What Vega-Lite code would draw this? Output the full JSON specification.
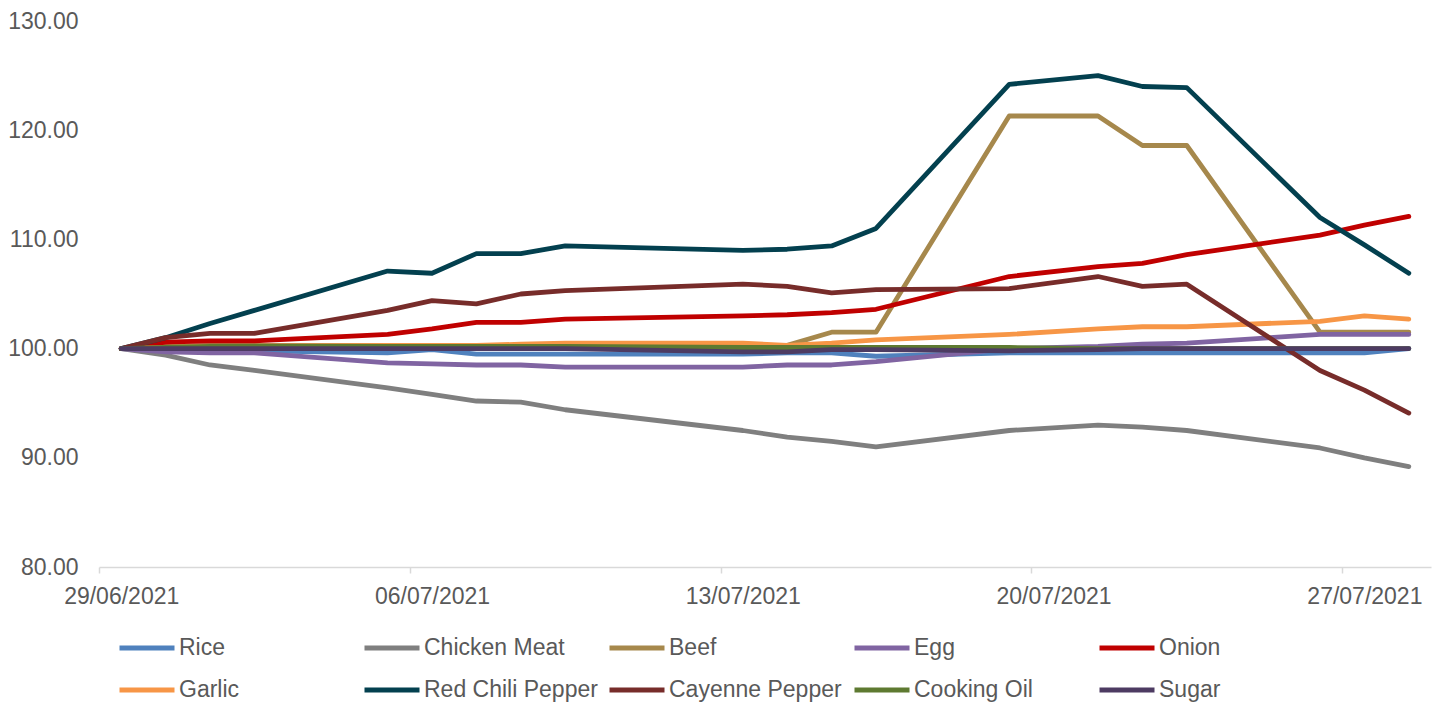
{
  "$schema": "https://vega.github.io/schema/vega-lite/v6.json",
  "width": 1332,
  "height": 546,
  "autosize": {"type": "none"},
  "padding": {"left": 99, "top": 21, "right": 11, "bottom": 138},
  "background": "white",
  "config": {
    "view": {"stroke": null},
    "font": "Liberation Sans"
  },
  "data": {
    "values": [
      {"date":"2021-06-29","commodity":"Rice","value":100.0},
      {"date":"2021-06-30","commodity":"Rice","value":99.9},
      {"date":"2021-07-01","commodity":"Rice","value":99.8},
      {"date":"2021-07-02","commodity":"Rice","value":99.8},
      {"date":"2021-07-05","commodity":"Rice","value":99.6},
      {"date":"2021-07-06","commodity":"Rice","value":99.9},
      {"date":"2021-07-07","commodity":"Rice","value":99.5},
      {"date":"2021-07-08","commodity":"Rice","value":99.5},
      {"date":"2021-07-09","commodity":"Rice","value":99.5},
      {"date":"2021-07-13","commodity":"Rice","value":99.5},
      {"date":"2021-07-14","commodity":"Rice","value":99.6},
      {"date":"2021-07-15","commodity":"Rice","value":99.6},
      {"date":"2021-07-16","commodity":"Rice","value":99.3},
      {"date":"2021-07-19","commodity":"Rice","value":99.6},
      {"date":"2021-07-21","commodity":"Rice","value":99.6},
      {"date":"2021-07-22","commodity":"Rice","value":99.6},
      {"date":"2021-07-23","commodity":"Rice","value":99.6},
      {"date":"2021-07-26","commodity":"Rice","value":99.6},
      {"date":"2021-07-27","commodity":"Rice","value":99.6},
      {"date":"2021-07-28","commodity":"Rice","value":100.0},

      {"date":"2021-06-29","commodity":"Chicken Meat","value":100.0},
      {"date":"2021-06-30","commodity":"Chicken Meat","value":99.4},
      {"date":"2021-07-01","commodity":"Chicken Meat","value":98.5},
      {"date":"2021-07-02","commodity":"Chicken Meat","value":98.0},
      {"date":"2021-07-05","commodity":"Chicken Meat","value":96.4},
      {"date":"2021-07-06","commodity":"Chicken Meat","value":95.8},
      {"date":"2021-07-07","commodity":"Chicken Meat","value":95.2},
      {"date":"2021-07-08","commodity":"Chicken Meat","value":95.1},
      {"date":"2021-07-09","commodity":"Chicken Meat","value":94.4},
      {"date":"2021-07-13","commodity":"Chicken Meat","value":92.5},
      {"date":"2021-07-14","commodity":"Chicken Meat","value":91.9},
      {"date":"2021-07-15","commodity":"Chicken Meat","value":91.5},
      {"date":"2021-07-16","commodity":"Chicken Meat","value":91.0},
      {"date":"2021-07-19","commodity":"Chicken Meat","value":92.5},
      {"date":"2021-07-21","commodity":"Chicken Meat","value":93.0},
      {"date":"2021-07-22","commodity":"Chicken Meat","value":92.8},
      {"date":"2021-07-23","commodity":"Chicken Meat","value":92.5},
      {"date":"2021-07-26","commodity":"Chicken Meat","value":90.9},
      {"date":"2021-07-27","commodity":"Chicken Meat","value":90.0},
      {"date":"2021-07-28","commodity":"Chicken Meat","value":89.2},

      {"date":"2021-06-29","commodity":"Beef","value":100.0},
      {"date":"2021-06-30","commodity":"Beef","value":100.2},
      {"date":"2021-07-01","commodity":"Beef","value":100.3},
      {"date":"2021-07-02","commodity":"Beef","value":100.3},
      {"date":"2021-07-05","commodity":"Beef","value":100.3},
      {"date":"2021-07-06","commodity":"Beef","value":100.3},
      {"date":"2021-07-07","commodity":"Beef","value":100.3},
      {"date":"2021-07-08","commodity":"Beef","value":100.3},
      {"date":"2021-07-09","commodity":"Beef","value":100.3},
      {"date":"2021-07-13","commodity":"Beef","value":100.3},
      {"date":"2021-07-14","commodity":"Beef","value":100.3},
      {"date":"2021-07-15","commodity":"Beef","value":101.5},
      {"date":"2021-07-16","commodity":"Beef","value":101.5},
      {"date":"2021-07-19","commodity":"Beef","value":121.3},
      {"date":"2021-07-21","commodity":"Beef","value":121.3},
      {"date":"2021-07-22","commodity":"Beef","value":118.6},
      {"date":"2021-07-23","commodity":"Beef","value":118.6},
      {"date":"2021-07-26","commodity":"Beef","value":101.5},
      {"date":"2021-07-27","commodity":"Beef","value":101.5},
      {"date":"2021-07-28","commodity":"Beef","value":101.5},

      {"date":"2021-06-29","commodity":"Egg","value":100.0},
      {"date":"2021-06-30","commodity":"Egg","value":99.7},
      {"date":"2021-07-01","commodity":"Egg","value":99.6},
      {"date":"2021-07-02","commodity":"Egg","value":99.6},
      {"date":"2021-07-05","commodity":"Egg","value":98.7},
      {"date":"2021-07-06","commodity":"Egg","value":98.6},
      {"date":"2021-07-07","commodity":"Egg","value":98.5},
      {"date":"2021-07-08","commodity":"Egg","value":98.5},
      {"date":"2021-07-09","commodity":"Egg","value":98.3},
      {"date":"2021-07-13","commodity":"Egg","value":98.3},
      {"date":"2021-07-14","commodity":"Egg","value":98.5},
      {"date":"2021-07-15","commodity":"Egg","value":98.5},
      {"date":"2021-07-16","commodity":"Egg","value":98.8},
      {"date":"2021-07-19","commodity":"Egg","value":100.0},
      {"date":"2021-07-21","commodity":"Egg","value":100.2},
      {"date":"2021-07-22","commodity":"Egg","value":100.4},
      {"date":"2021-07-23","commodity":"Egg","value":100.5},
      {"date":"2021-07-26","commodity":"Egg","value":101.3},
      {"date":"2021-07-27","commodity":"Egg","value":101.3},
      {"date":"2021-07-28","commodity":"Egg","value":101.3},

      {"date":"2021-06-29","commodity":"Onion","value":100.0},
      {"date":"2021-06-30","commodity":"Onion","value":100.6},
      {"date":"2021-07-01","commodity":"Onion","value":100.7},
      {"date":"2021-07-02","commodity":"Onion","value":100.7},
      {"date":"2021-07-05","commodity":"Onion","value":101.3},
      {"date":"2021-07-06","commodity":"Onion","value":101.8},
      {"date":"2021-07-07","commodity":"Onion","value":102.4},
      {"date":"2021-07-08","commodity":"Onion","value":102.4},
      {"date":"2021-07-09","commodity":"Onion","value":102.7},
      {"date":"2021-07-13","commodity":"Onion","value":103.0},
      {"date":"2021-07-14","commodity":"Onion","value":103.1},
      {"date":"2021-07-15","commodity":"Onion","value":103.3},
      {"date":"2021-07-16","commodity":"Onion","value":103.6},
      {"date":"2021-07-19","commodity":"Onion","value":106.6},
      {"date":"2021-07-21","commodity":"Onion","value":107.5},
      {"date":"2021-07-22","commodity":"Onion","value":107.8},
      {"date":"2021-07-23","commodity":"Onion","value":108.6},
      {"date":"2021-07-26","commodity":"Onion","value":110.4},
      {"date":"2021-07-27","commodity":"Onion","value":111.3},
      {"date":"2021-07-28","commodity":"Onion","value":112.1},

      {"date":"2021-06-29","commodity":"Garlic","value":100.0},
      {"date":"2021-06-30","commodity":"Garlic","value":100.1},
      {"date":"2021-07-01","commodity":"Garlic","value":100.2},
      {"date":"2021-07-02","commodity":"Garlic","value":100.2},
      {"date":"2021-07-05","commodity":"Garlic","value":100.3},
      {"date":"2021-07-06","commodity":"Garlic","value":100.3},
      {"date":"2021-07-07","commodity":"Garlic","value":100.3},
      {"date":"2021-07-08","commodity":"Garlic","value":100.4},
      {"date":"2021-07-09","commodity":"Garlic","value":100.5},
      {"date":"2021-07-13","commodity":"Garlic","value":100.5},
      {"date":"2021-07-14","commodity":"Garlic","value":100.3},
      {"date":"2021-07-15","commodity":"Garlic","value":100.5},
      {"date":"2021-07-16","commodity":"Garlic","value":100.8},
      {"date":"2021-07-19","commodity":"Garlic","value":101.3},
      {"date":"2021-07-21","commodity":"Garlic","value":101.8},
      {"date":"2021-07-22","commodity":"Garlic","value":102.0},
      {"date":"2021-07-23","commodity":"Garlic","value":102.0},
      {"date":"2021-07-26","commodity":"Garlic","value":102.5},
      {"date":"2021-07-27","commodity":"Garlic","value":103.0},
      {"date":"2021-07-28","commodity":"Garlic","value":102.7},

      {"date":"2021-06-29","commodity":"Red Chili Pepper","value":100.0},
      {"date":"2021-06-30","commodity":"Red Chili Pepper","value":101.0},
      {"date":"2021-07-01","commodity":"Red Chili Pepper","value":102.3},
      {"date":"2021-07-02","commodity":"Red Chili Pepper","value":103.5},
      {"date":"2021-07-05","commodity":"Red Chili Pepper","value":107.1},
      {"date":"2021-07-06","commodity":"Red Chili Pepper","value":106.9},
      {"date":"2021-07-07","commodity":"Red Chili Pepper","value":108.7},
      {"date":"2021-07-08","commodity":"Red Chili Pepper","value":108.7},
      {"date":"2021-07-09","commodity":"Red Chili Pepper","value":109.4},
      {"date":"2021-07-13","commodity":"Red Chili Pepper","value":109.0},
      {"date":"2021-07-14","commodity":"Red Chili Pepper","value":109.1},
      {"date":"2021-07-15","commodity":"Red Chili Pepper","value":109.4},
      {"date":"2021-07-16","commodity":"Red Chili Pepper","value":111.0},
      {"date":"2021-07-19","commodity":"Red Chili Pepper","value":124.2},
      {"date":"2021-07-21","commodity":"Red Chili Pepper","value":125.0},
      {"date":"2021-07-22","commodity":"Red Chili Pepper","value":124.0},
      {"date":"2021-07-23","commodity":"Red Chili Pepper","value":123.9},
      {"date":"2021-07-26","commodity":"Red Chili Pepper","value":112.0},
      {"date":"2021-07-27","commodity":"Red Chili Pepper","value":109.5},
      {"date":"2021-07-28","commodity":"Red Chili Pepper","value":106.9},

      {"date":"2021-06-29","commodity":"Cayenne Pepper","value":100.0},
      {"date":"2021-06-30","commodity":"Cayenne Pepper","value":101.0},
      {"date":"2021-07-01","commodity":"Cayenne Pepper","value":101.4},
      {"date":"2021-07-02","commodity":"Cayenne Pepper","value":101.4},
      {"date":"2021-07-05","commodity":"Cayenne Pepper","value":103.5},
      {"date":"2021-07-06","commodity":"Cayenne Pepper","value":104.4},
      {"date":"2021-07-07","commodity":"Cayenne Pepper","value":104.1},
      {"date":"2021-07-08","commodity":"Cayenne Pepper","value":105.0},
      {"date":"2021-07-09","commodity":"Cayenne Pepper","value":105.3},
      {"date":"2021-07-13","commodity":"Cayenne Pepper","value":105.9},
      {"date":"2021-07-14","commodity":"Cayenne Pepper","value":105.7},
      {"date":"2021-07-15","commodity":"Cayenne Pepper","value":105.1},
      {"date":"2021-07-16","commodity":"Cayenne Pepper","value":105.4},
      {"date":"2021-07-19","commodity":"Cayenne Pepper","value":105.5},
      {"date":"2021-07-21","commodity":"Cayenne Pepper","value":106.6},
      {"date":"2021-07-22","commodity":"Cayenne Pepper","value":105.7},
      {"date":"2021-07-23","commodity":"Cayenne Pepper","value":105.9},
      {"date":"2021-07-26","commodity":"Cayenne Pepper","value":98.0},
      {"date":"2021-07-27","commodity":"Cayenne Pepper","value":96.2},
      {"date":"2021-07-28","commodity":"Cayenne Pepper","value":94.1},

      {"date":"2021-06-29","commodity":"Cooking Oil","value":100.0},
      {"date":"2021-06-30","commodity":"Cooking Oil","value":100.1},
      {"date":"2021-07-01","commodity":"Cooking Oil","value":100.2},
      {"date":"2021-07-02","commodity":"Cooking Oil","value":100.2},
      {"date":"2021-07-05","commodity":"Cooking Oil","value":100.2},
      {"date":"2021-07-06","commodity":"Cooking Oil","value":100.2},
      {"date":"2021-07-07","commodity":"Cooking Oil","value":100.2},
      {"date":"2021-07-08","commodity":"Cooking Oil","value":100.2},
      {"date":"2021-07-09","commodity":"Cooking Oil","value":100.2},
      {"date":"2021-07-13","commodity":"Cooking Oil","value":100.1},
      {"date":"2021-07-14","commodity":"Cooking Oil","value":100.1},
      {"date":"2021-07-15","commodity":"Cooking Oil","value":100.1},
      {"date":"2021-07-16","commodity":"Cooking Oil","value":100.1},
      {"date":"2021-07-19","commodity":"Cooking Oil","value":100.1},
      {"date":"2021-07-21","commodity":"Cooking Oil","value":100.0},
      {"date":"2021-07-22","commodity":"Cooking Oil","value":100.0},
      {"date":"2021-07-23","commodity":"Cooking Oil","value":100.0},
      {"date":"2021-07-26","commodity":"Cooking Oil","value":100.0},
      {"date":"2021-07-27","commodity":"Cooking Oil","value":100.0},
      {"date":"2021-07-28","commodity":"Cooking Oil","value":100.0},

      {"date":"2021-06-29","commodity":"Sugar","value":100.0},
      {"date":"2021-06-30","commodity":"Sugar","value":100.0},
      {"date":"2021-07-01","commodity":"Sugar","value":100.0},
      {"date":"2021-07-02","commodity":"Sugar","value":100.0},
      {"date":"2021-07-05","commodity":"Sugar","value":100.0},
      {"date":"2021-07-06","commodity":"Sugar","value":100.0},
      {"date":"2021-07-07","commodity":"Sugar","value":100.0},
      {"date":"2021-07-08","commodity":"Sugar","value":100.0},
      {"date":"2021-07-09","commodity":"Sugar","value":100.0},
      {"date":"2021-07-13","commodity":"Sugar","value":99.7},
      {"date":"2021-07-14","commodity":"Sugar","value":99.7},
      {"date":"2021-07-15","commodity":"Sugar","value":99.9},
      {"date":"2021-07-16","commodity":"Sugar","value":99.9},
      {"date":"2021-07-19","commodity":"Sugar","value":99.8},
      {"date":"2021-07-21","commodity":"Sugar","value":99.9},
      {"date":"2021-07-22","commodity":"Sugar","value":100.0},
      {"date":"2021-07-23","commodity":"Sugar","value":100.0},
      {"date":"2021-07-26","commodity":"Sugar","value":100.0},
      {"date":"2021-07-27","commodity":"Sugar","value":100.0},
      {"date":"2021-07-28","commodity":"Sugar","value":100.0}
    ]
  },
  "mark": {"type": "line", "strokeWidth": 4.8, "strokeCap": "round", "strokeJoin": "round"},
  "encoding": {
    "x": {
      "field": "date",
      "type": "temporal",
      "scale": {
        "type": "utc",
        "domain": [
          {"year": 2021, "month": 6, "date": 28, "hours": 12, "utc": true},
          {"year": 2021, "month": 7, "date": 28, "hours": 12, "utc": true}
        ]
      },
      "axis": {
        "title": null,
        "grid": false,
        "values": [
          {"year": 2021, "month": 6, "date": 28, "hours": 12, "utc": true},
          {"year": 2021, "month": 7, "date": 5, "hours": 12, "utc": true},
          {"year": 2021, "month": 7, "date": 12, "hours": 12, "utc": true},
          {"year": 2021, "month": 7, "date": 19, "hours": 12, "utc": true},
          {"year": 2021, "month": 7, "date": 26, "hours": 12, "utc": true}
        ],
        "labelExpr": "utcFormat(time(datum.value) + 43200000, '%d/%m/%Y')",
        "labelOffset": 22.2,
        "labelFont": "Liberation Sans",
        "labelFontSize": 23,
        "labelColor": "#595959",
        "labelPadding": 12,
        "labelFlush": false,
        "labelOverlap": false,
        "domainColor": "#D9D9D9",
        "domainWidth": 1.5,
        "tickColor": "#D9D9D9",
        "tickWidth": 1.5,
        "tickSize": 6
      }
    },
    "y": {
      "field": "value",
      "type": "quantitative",
      "scale": {"domain": [80, 130], "nice": false, "zero": false},
      "axis": {
        "title": null,
        "grid": false,
        "domain": false,
        "ticks": false,
        "values": [80, 90, 100, 110, 120, 130],
        "format": ".2f",
        "labelFont": "Liberation Sans",
        "labelFontSize": 23,
        "labelColor": "#595959",
        "labelPadding": 21
      }
    },
    "color": {
      "field": "commodity",
      "type": "nominal",
      "sort": null,
      "scale": {
        "domain": ["Rice", "Garlic", "Chicken Meat", "Red Chili Pepper", "Beef", "Cayenne Pepper", "Egg", "Cooking Oil", "Onion", "Sugar"],
        "range": ["#4F81BD", "#F79646", "#7F7F7F", "#03404F", "#A6884C", "#772C2A", "#8064A2", "#5E7A31", "#C00000", "#4D3B62"]
      },
      "legend": {
        "title": null,
        "orient": "none",
        "legendX": 18,
        "legendY": 597,
        "columns": 5,
        "gridAlign": "all",
        "columnPadding": 1,
        "rowPadding": 0,
        "symbolType": "stroke",
        "symbolSize": 3025,
        "symbolStrokeWidth": 5,
        "labelFont": "Liberation Sans",
        "labelFontSize": 23,
        "labelColor": "#595959",
        "labelOffset": 2,
        "labelLimit": 400
      }
    }
  }
}
